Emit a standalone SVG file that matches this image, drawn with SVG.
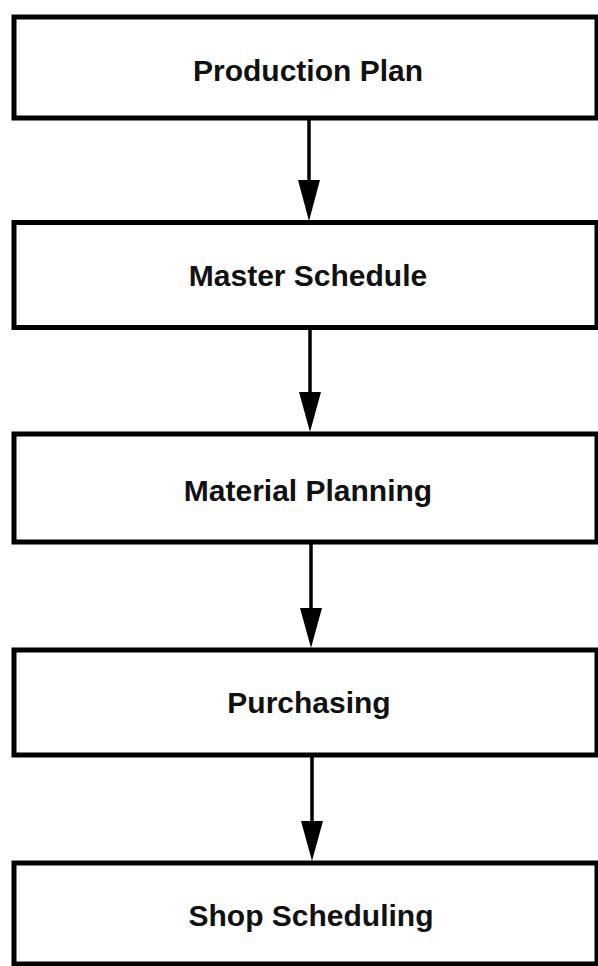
<svg xmlns="http://www.w3.org/2000/svg" width="598" height="966" viewBox="0 0 598 966">
<style>
.box{fill:#fff;stroke:#000;stroke-width:5}
.lbl{font-family:"Liberation Sans",Arial,Helvetica,sans-serif;font-weight:bold;font-size:30px;fill:#111;text-anchor:middle}
.edge{stroke:#000;stroke-width:3.5;fill:none}
.head{fill:#000}
</style>
<rect width="598" height="966" fill="#fff"/>
<g id="connectors">
<line class="edge" x1="309" y1="120" x2="309" y2="200"/>
<polygon class="head" points="298,180 320,180 309,221"/>
<line class="edge" x1="310" y1="330" x2="310" y2="410"/>
<polygon class="head" points="299,392 321,392 310,432"/>
<line class="edge" x1="311" y1="544" x2="311" y2="625"/>
<polygon class="head" points="300,608 322,608 311,648"/>
<line class="edge" x1="312" y1="757" x2="312" y2="840"/>
<polygon class="head" points="301,821 323,821 312,861"/>
</g>
<g id="node-production-plan">
<rect class="box" x="14" y="17" width="583" height="101"/>
<text class="lbl" x="308" y="81">Production Plan</text>
</g>
<g id="node-master-schedule">
<rect class="box" x="14" y="222.5" width="583" height="105"/>
<text class="lbl" x="308" y="286">Master Schedule</text>
</g>
<g id="node-material-planning">
<rect class="box" x="14" y="434" width="583" height="108"/>
<text class="lbl" x="308" y="501">Material Planning</text>
</g>
<g id="node-purchasing">
<rect class="box" x="14" y="650" width="583" height="105"/>
<text class="lbl" x="309" y="713">Purchasing</text>
</g>
<g id="node-shop-scheduling">
<rect class="box" x="14" y="863" width="583" height="101"/>
<text class="lbl" x="311" y="926">Shop Scheduling</text>
</g>
</svg>
